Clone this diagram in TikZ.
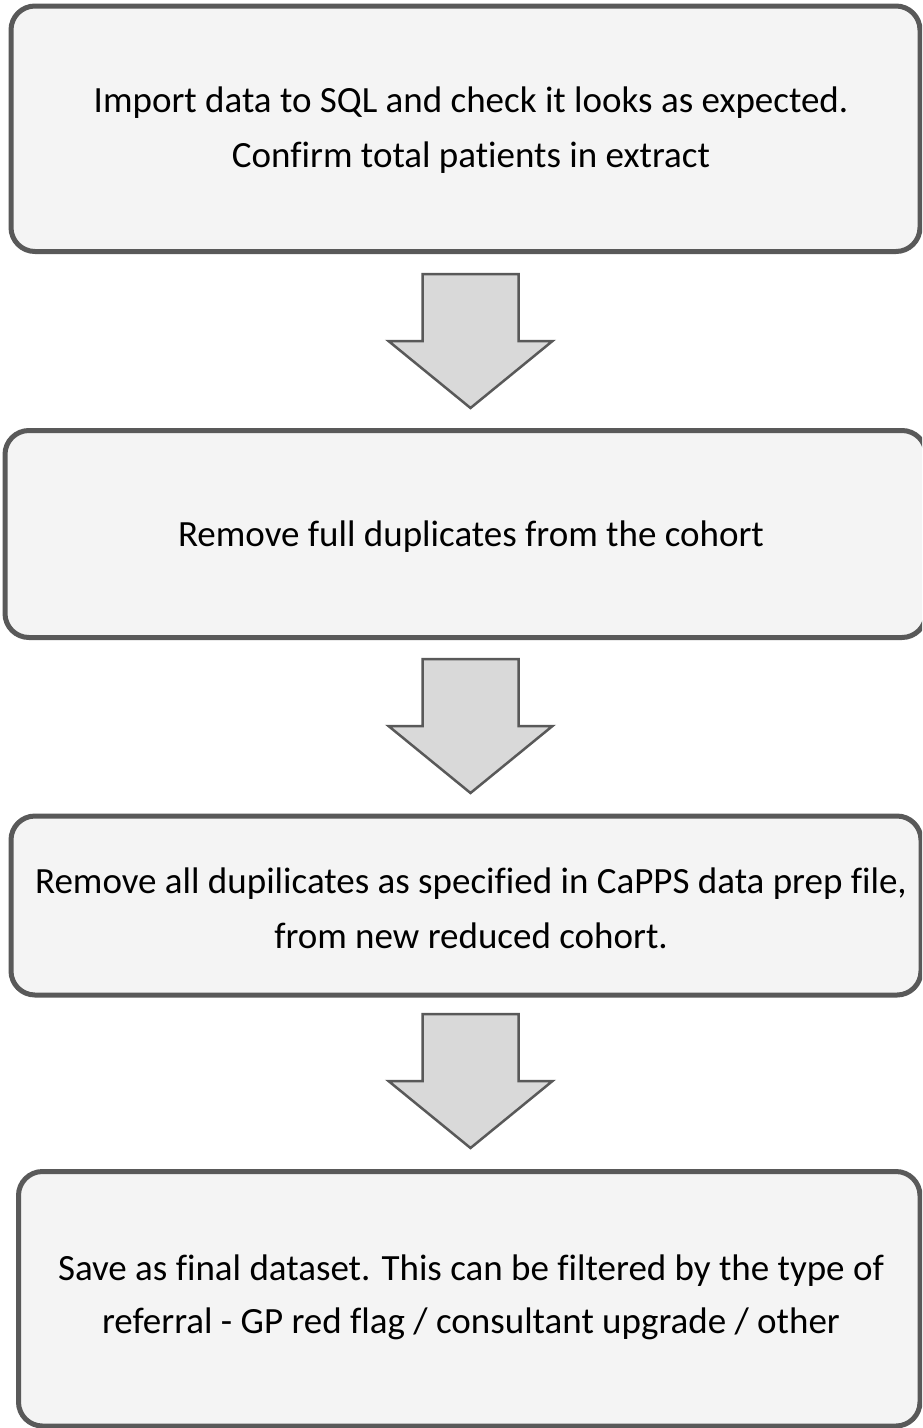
\documentclass[tikz,border=0pt]{standalone}
\usepackage{fontspec}
\setmainfont{Carlito}[Ligatures={NoCommon}]
\definecolor{boxline}{HTML}{595959}
\definecolor{boxfill}{HTML}{F4F4F4}
\definecolor{arrowfill}{HTML}{D9D9D9}
\begin{document}
\begin{tikzpicture}[x=1pt,y=-1pt,
  boxstyle/.style={draw=boxline, line width=5pt, fill=boxfill, rounded corners=24pt},
  txt/.style={font=\fontsize{37}{55}\selectfont, text=black, inner sep=0pt, anchor=base},
  blockarrow/.style={draw=boxline, line width=2.5pt, fill=arrowfill, line join=miter}]
\useasboundingbox (0,0) rectangle (922,1428);
\begin{scope}
\clip (0,0) rectangle (922,1428);
% boxes
\draw[boxstyle] (11,6) rectangle (920,251.5);
\draw[boxstyle] (5,430.5) rectangle (926,637.5);
\draw[boxstyle] (11,816) rectangle (921,995);
\draw[boxstyle] (18.5,1171.5) rectangle (920,1426);
% block arrows
\foreach \ytop in {274,659,1014}{
  \draw[blockarrow, shift={(470.5,\ytop)}]
    (-48,0) -- (48,0) -- (48,67) -- (82,67) -- (0,134) -- (-82,67) -- (-48,67) -- cycle;
}
\end{scope}
% texts
\node[txt] (t1a) at (471,112) {Import data to SQL and check it looks as expected.};
\node[txt] (t1b) at (471,167) {Confirm total patients in extract};
\node[txt] (t2) at (471,546) {Remove full duplicates from the cohort};
\node[txt] (t3a) at (471,893) {Remove all dupilicates as specified in CaPPS data prep file,};
\node[txt] (t3b) at (471,948) {from new reduced cohort.};
\node[txt] (t4a) at (471,1280) {Save as final dataset. This can be filtered by the type of};
\node[txt] (t4b) at (471,1333) {referral - GP red flag / consultant upgrade / other};
\end{tikzpicture}
\end{document}
